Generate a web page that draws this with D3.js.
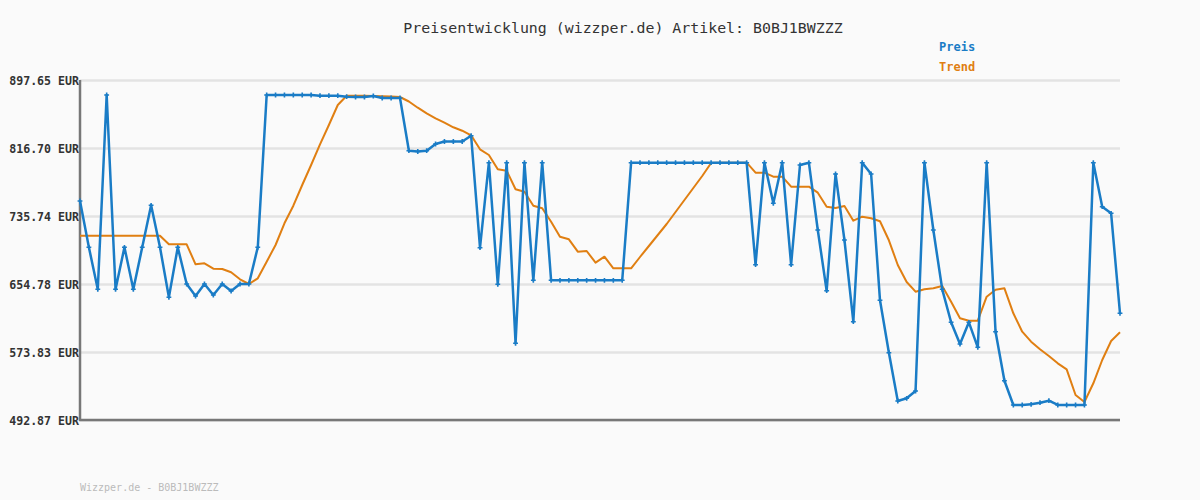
<!DOCTYPE html>
<html>
<head>
<meta charset="utf-8">
<script src="https://cdn.jsdelivr.net/npm/d3@7"></script>
<style>
html,body{margin:0;padding:0;background:#fafafa;}
svg{display:block;}
</style>
</head>
<body>
<svg id="chart" width="1200" height="500"></svg>
<script>
const titleText = "Preisentwicklung (wizzper.de) Artikel: B0BJ1BWZZZ";
const footerText = "Wizzper.de - B0BJ1BWZZZ";
const seriesNames = ["Preis", "Trend"];
const yTickValues = [492.87, 573.83, 654.78, 735.74, 816.70, 897.65];
const yTickLabels = ["492.87 EUR", "573.83 EUR", "654.78 EUR", "735.74 EUR", "816.70 EUR", "897.65 EUR"];

const preis = [
753.60,698.47,648.47,879.79,648.47,698.47,648.47,698.47,748.48,698.47,
638.95,698.47,654.78,640.50,654.78,641.69,654.78,646.45,654.78,654.78,
698.47,879.79,879.79,879.79,879.79,879.79,879.79,878.96,878.96,878.96,
877.77,877.41,877.41,878.60,876.22,876.22,876.22,813.48,812.53,813.48,
821.46,824.43,824.43,824.43,831.34,698.00,799.19,654.43,799.19,584.18,
799.19,659.19,799.19,659.19,659.19,659.19,659.19,659.19,659.19,659.19,
659.19,659.19,799.19,799.19,799.19,799.19,799.19,799.19,799.19,799.19,
799.19,799.19,799.19,799.19,799.19,799.19,677.76,799.19,750.86,799.19,
677.76,796.45,799.19,719.07,646.81,785.74,707.17,609.90,799.19,785.74,
635.38,572.99,515.49,518.71,527.40,799.19,719.07,648.47,609.19,583.35,
609.19,579.42,799.19,597.99,539.66,510.73,510.73,511.56,513.47,515.85,
510.73,510.73,510.73,510.73,799.19,746.81,738.95,619.90
];

const trend = [
712.29,712.29,712.29,712.29,712.29,712.29,712.29,712.29,712.29,712.29,
702.05,702.05,702.05,678.24,679.43,673.00,672.64,668.71,660.38,654.78,
661.57,681.33,701.21,727.05,748.00,772.64,796.45,821.10,844.08,867.89,
878.96,878.96,878.96,878.60,878.24,878.00,877.41,872.05,864.67,858.01,
852.05,846.81,841.34,837.29,831.81,815.15,808.36,791.34,789.67,767.53,
764.67,748.00,744.90,728.95,711.09,708.00,693.24,694.07,680.14,687.28,
673.47,673.47,673.47,686.93,700.02,713.12,726.21,740.50,754.79,769.07,
783.36,798.84,799.19,799.19,799.19,799.19,787.29,787.29,782.53,782.53,
770.62,770.62,770.62,763.48,746.81,745.26,747.64,730.14,734.90,733.00,
729.43,706.81,677.40,657.16,645.62,648.47,649.66,652.40,633.71,613.95,
611.09,611.09,639.66,648.00,649.66,619.90,597.99,586.09,577.04,569.06,
560.37,553.23,522.63,514.30,536.56,564.30,586.92,597.28
];

const svg = d3.select("#chart");
const W = 1200, H = 500;
const m = {left: 80, right: 80, top: 80, bottom: 80};
const blue = "#1a7cc6";
const orange = "#e07f12";

svg.append("rect").attr("width", W).attr("height", H).attr("fill", "#fafafa");

const x = d3.scaleLinear().domain([0, preis.length - 1]).range([m.left, W - m.right]);
const y = d3.scaleLinear().domain([yTickValues[0], yTickValues[yTickValues.length - 1]]).range([H - m.bottom, m.top]);

// grid
const grid = d3.axisLeft(y).tickValues(yTickValues).tickSize(-(W - m.left - m.right)).tickFormat("");
const gg = svg.append("g").attr("transform", `translate(${m.left},0)`).call(grid);
gg.select(".domain").remove();
gg.selectAll("line").attr("stroke", "#e3e3e3").attr("stroke-width", 2.5);

// y axis labels
const yAxis = d3.axisLeft(y).tickValues(yTickValues).tickSize(0).tickPadding(1)
  .tickFormat((d, i) => yTickLabels[i]);
const ga = svg.append("g").attr("transform", `translate(${m.left},0)`).call(yAxis);
ga.select(".domain").remove();
ga.selectAll("text")
  .attr("font-family", "DejaVu Sans Mono")
  .attr("font-size", "11.6px")
  .attr("font-weight", "bold")
  .attr("fill", "#333")
  .attr("dy", "0.35em");

// axes lines
svg.append("line").attr("x1", m.left).attr("x2", m.left).attr("y1", m.top).attr("y2", H - m.bottom + 1)
  .attr("stroke", "#777").attr("stroke-width", 2.5);
svg.append("line").attr("x1", m.left - 1).attr("x2", W - m.right).attr("y1", H - m.bottom).attr("y2", H - m.bottom)
  .attr("stroke", "#777").attr("stroke-width", 2.5);

// trend line
const line = d3.line().x((d, i) => x(i)).y(d => y(d));
svg.append("path").datum(trend).attr("d", line).attr("fill", "none")
  .attr("stroke", orange).attr("stroke-width", 2).attr("stroke-linejoin", "round");

// price line
svg.append("path").datum(preis).attr("d", line).attr("fill", "none")
  .attr("stroke", blue).attr("stroke-width", 2.5).attr("stroke-linejoin", "round");

// markers
const cross = d3.symbol().type(d3.symbolCross).size(13);
svg.append("g").selectAll("path").data(preis).join("path")
  .attr("transform", (d, i) => `translate(${x(i)},${y(d)})`)
  .attr("d", cross).attr("fill", blue);

// title
svg.append("text").attr("x", 623).attr("y", 33).attr("text-anchor", "middle")
  .attr("font-family", "DejaVu Sans Mono").attr("font-size", "14.9px").attr("fill", "#333")
  .text(titleText);

// legend
const legendColors = [blue, orange];
svg.append("g").selectAll("text").data(seriesNames).join("text")
  .attr("x", 939).attr("y", (d, i) => 51 + i * 20)
  .attr("font-family", "DejaVu Sans Mono").attr("font-size", "12px").attr("font-weight", "bold")
  .attr("fill", (d, i) => legendColors[i]).text(d => d);

// footer
svg.append("text").attr("x", 80).attr("y", 491)
  .attr("font-family", "DejaVu Sans Mono").attr("font-size", "10px").attr("fill", "#bbb")
  .text(footerText);
</script>
</body>
</html>
